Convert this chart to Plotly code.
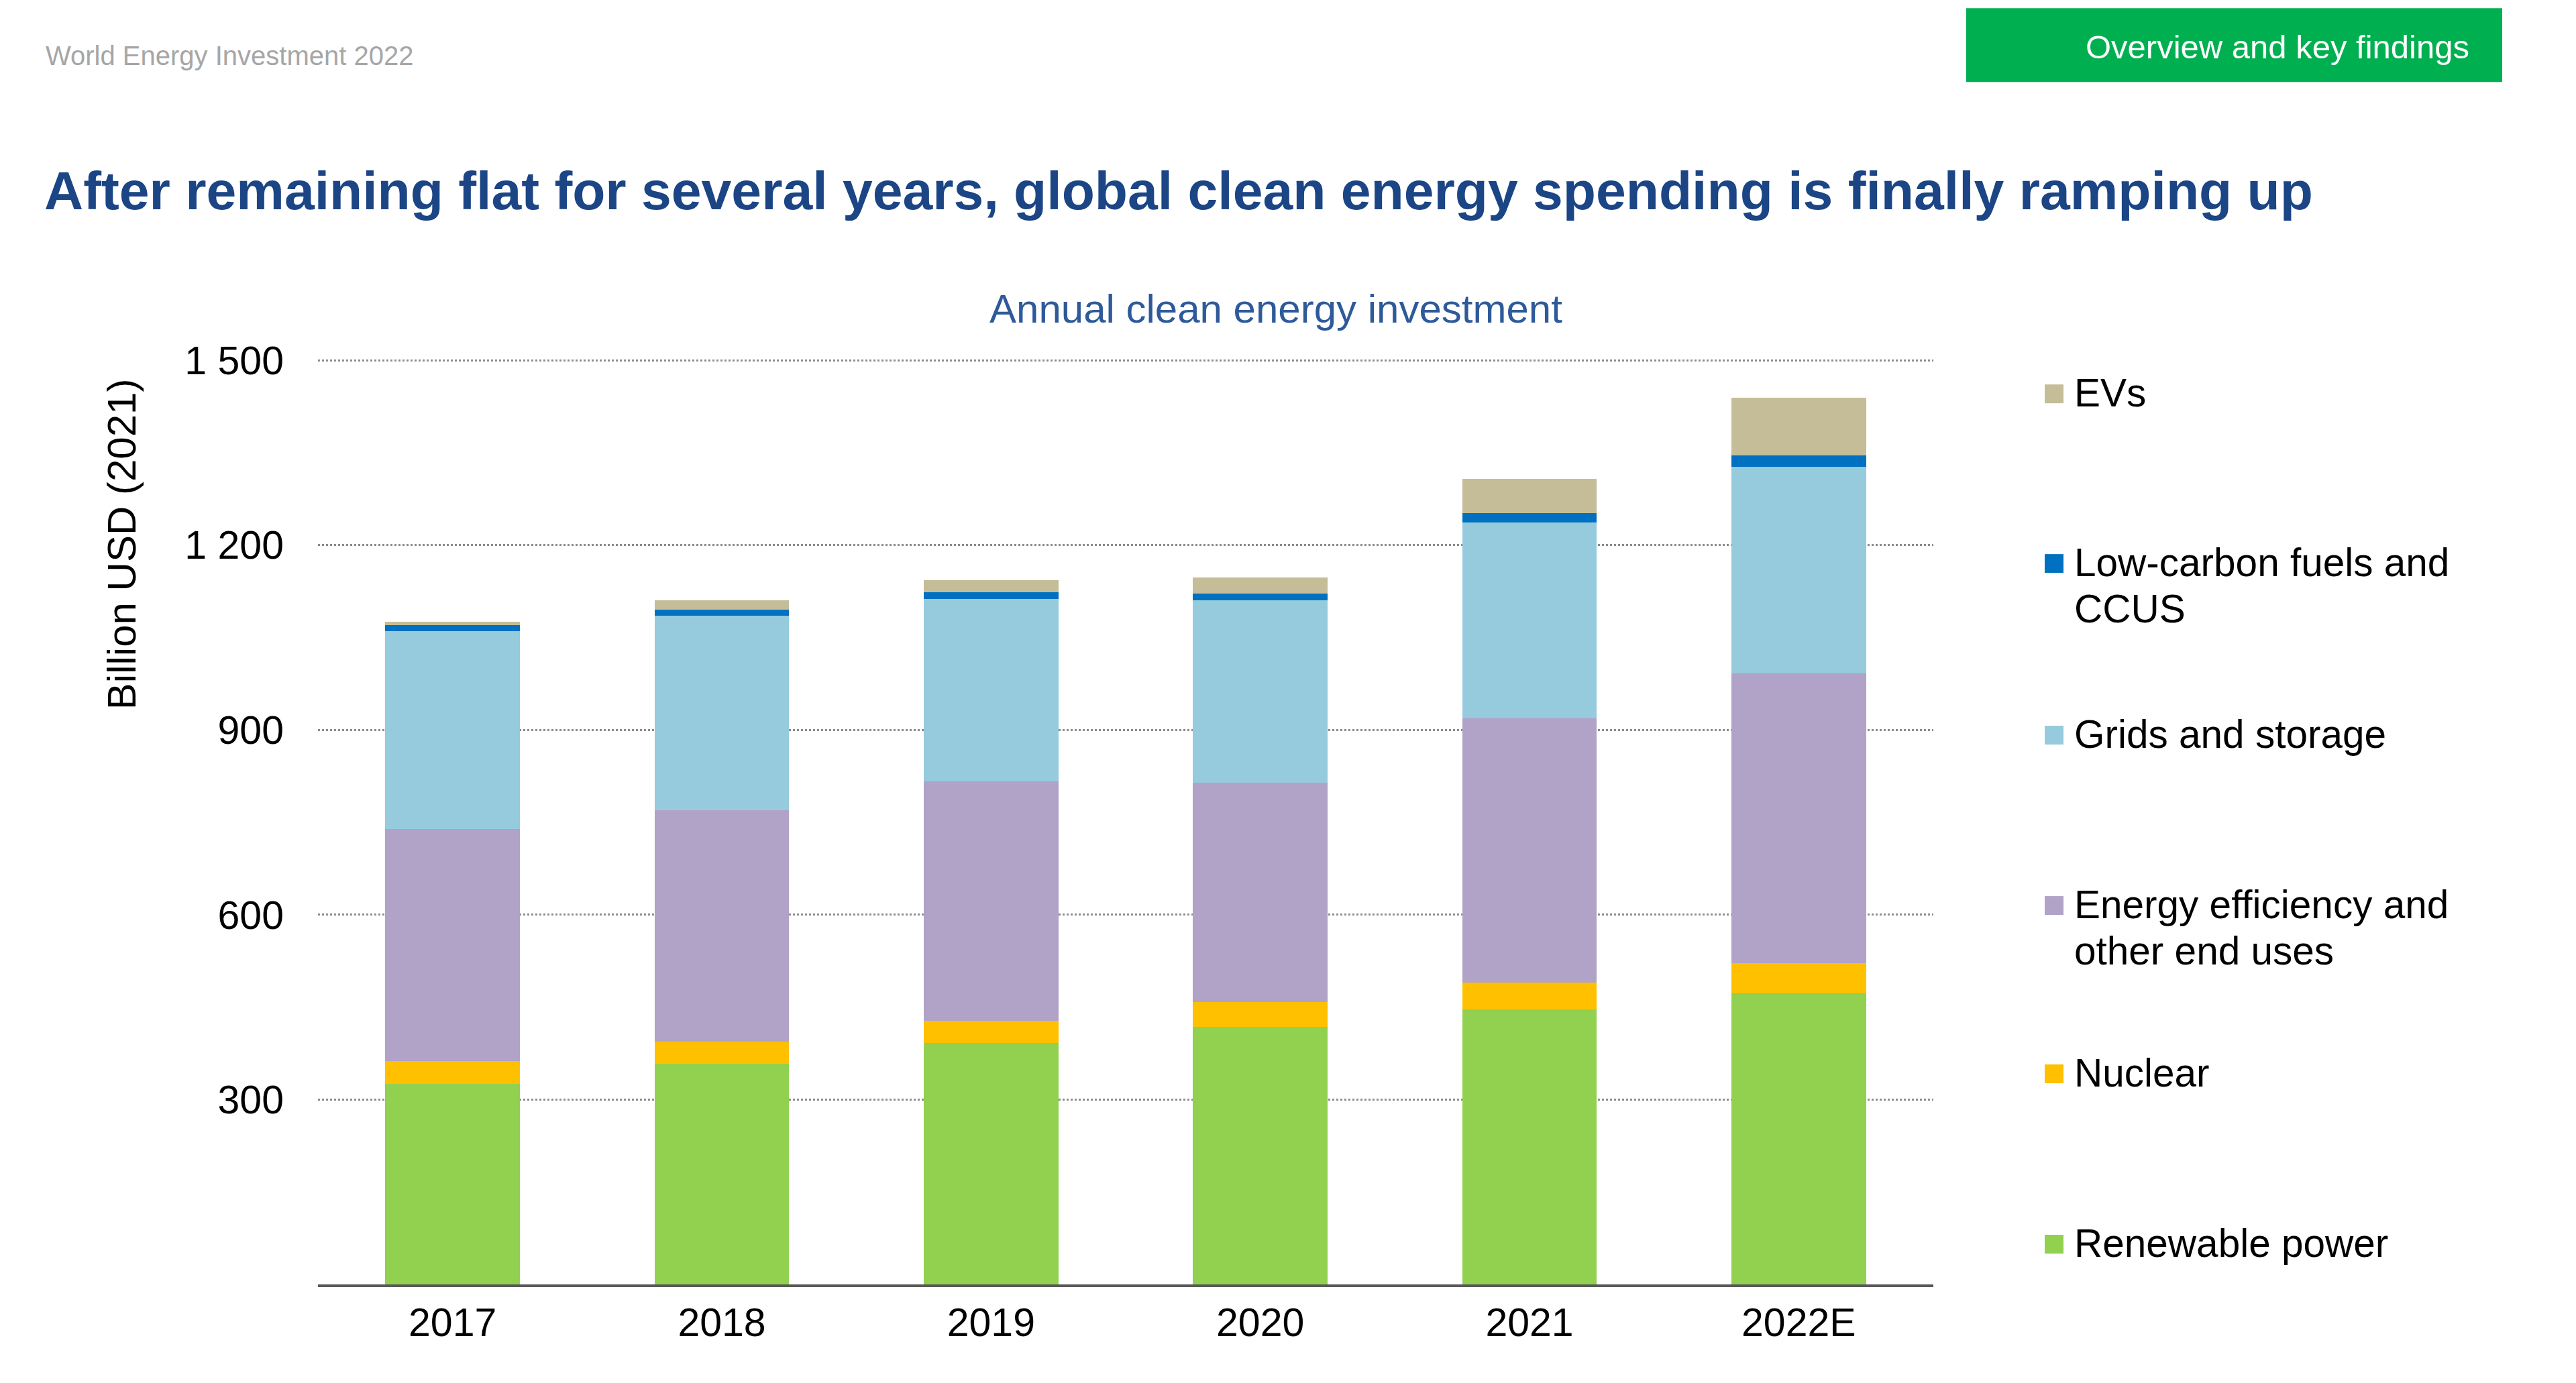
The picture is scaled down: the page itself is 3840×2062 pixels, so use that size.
import plotly.graph_objects as go

# ---------------- data ----------------
years = ["2017", "2018", "2019", "2020", "2021", "2022E"]
renewable_power = [326, 358, 392, 418, 446, 472]
nuclear = [37, 36, 36, 40, 44, 50]
energy_efficiency = [376, 376, 388, 356, 429, 470]
grids_storage = [321, 315, 297, 296, 318, 335]
low_carbon_fuels = [10, 10, 10, 11, 15, 19]
evs = [6, 15, 20, 27, 56, 93]

series_names = ["Renewable power", "Nuclear", "Energy efficiency and other end uses",
                "Grids and storage", "Low-carbon fuels and CCUS", "EVs"]
series_values = [renewable_power, nuclear, energy_efficiency, grids_storage, low_carbon_fuels, evs]
series_colors = ["#92D050", "#FFC000", "#B1A2C7", "#95CBDD", "#0070C0", "#C4BD97"]
legend_lines = {
    "EVs": ["EVs"],
    "Low-carbon fuels and CCUS": ["Low-carbon fuels and", "CCUS"],
    "Grids and storage": ["Grids and storage"],
    "Energy efficiency and other end uses": ["Energy efficiency and", "other end uses"],
    "Nuclear": ["Nuclear"],
    "Renewable power": ["Renewable power"],
}
y_tickvals = [300, 600, 900, 1200, 1500]
y_ticktext = ["300", "600", "900", "1 200", "1 500"]

# ---------------- layout geometry (pixels) ----------------
FW, FH = 3840, 2062
L, R, B = 474, 2882, 1915
YMAX = 1510
UNIT = 1378 / 1500
T = B - YMAX * UNIT
W, H = R - L, B - T


def px(x):
    return (x - L) / W


def py(y):
    return (B - y) / H


FONT = "Liberation Sans, Arial, sans-serif"

fig = go.Figure()
for name, vals, col in zip(series_names, series_values, series_colors):
    fig.add_trace(go.Bar(x=years, y=vals, name=name, marker=dict(color=col, line=dict(width=0)),
                         showlegend=False))

annotations = []
shapes = []

# header
annotations.append(dict(text="World Energy Investment 2022", x=px(66), y=py(83), xref="paper", yref="paper",
                        xanchor="left", yanchor="middle", showarrow=False,
                        font=dict(family=FONT, size=40, color="#A6A6A6")))
shapes.append(dict(type="rect", xref="paper", yref="paper", x0=px(2931), x1=px(3730), y0=py(122), y1=py(12),
                   fillcolor="#00B050", line=dict(width=0), layer="below"))
annotations.append(dict(text="Overview and key findings", x=px(3395), y=py(70), xref="paper", yref="paper",
                        xanchor="center", yanchor="middle", showarrow=False,
                        font=dict(family=FONT, size=49, color="#FFFFFF")))
# title
annotations.append(dict(text="<b>After remaining flat for several years, global clean energy spending is finally ramping up</b>",
                        x=px(64), y=py(284), xref="paper", yref="paper", xanchor="left", yanchor="middle",
                        showarrow=False, font=dict(family=FONT, size=80.5, color="#1B4585")))
# chart subtitle
annotations.append(dict(text="Annual clean energy investment", x=px(1902), y=py(460), xref="paper", yref="paper",
                        xanchor="center", yanchor="middle", showarrow=False,
                        font=dict(family=FONT, size=60, color="#2E5A9A")))
# y axis title
annotations.append(dict(text="Billion USD (2021)", x=px(181), y=py(811), xref="paper", yref="paper",
                        xanchor="center", yanchor="middle", textangle=-90, showarrow=False,
                        font=dict(family=FONT, size=60, color="#000000")))

# legend (manual)
legend_order = ["EVs", "Low-carbon fuels and CCUS", "Grids and storage",
                "Energy efficiency and other end uses", "Nuclear", "Renewable power"]
legend_y = [585, 838, 1094, 1348, 1599, 1853]
color_of = dict(zip(series_names, series_colors))
for name, yc in zip(legend_order, legend_y):
    shapes.append(dict(type="rect", xref="paper", yref="paper", x0=px(3048), x1=px(3076),
                       y0=py(yc + 16), y1=py(yc - 12), fillcolor=color_of[name], line=dict(width=0)))
    for i, line in enumerate(legend_lines[name]):
        annotations.append(dict(text=line, x=px(3090), y=py(yc + i * 69), xref="paper", yref="paper",
                                xanchor="left", yanchor="middle", showarrow=False,
                                font=dict(family=FONT, size=58.5, color="#000000")))

fig.update_layout(
    width=FW, height=FH,
    margin=dict(l=L, r=FW - R, t=T, b=FH - B, pad=0),
    paper_bgcolor="#FFFFFF", plot_bgcolor="#FFFFFF",
    barmode="stack", bargap=0.5,
    font=dict(family=FONT, size=58, color="#000000"),
    annotations=annotations, shapes=shapes,
    xaxis=dict(type="category", showgrid=False, zeroline=False, showline=True, linecolor="#595959",
               linewidth=4, ticks="", tickfont=dict(family=FONT, size=59, color="#000000"),
               ticklabelstandoff=2),
    yaxis=dict(range=[0, YMAX], tickvals=y_tickvals, ticktext=y_ticktext, showgrid=True,
               gridcolor="#8C8C8C", gridwidth=3, griddash="dot", zeroline=False, showline=False,
               ticks="", tickfont=dict(family=FONT, size=59, color="#000000"), ticklabelstandoff=50),
    showlegend=False,
)

fig.write_html("out.html")
